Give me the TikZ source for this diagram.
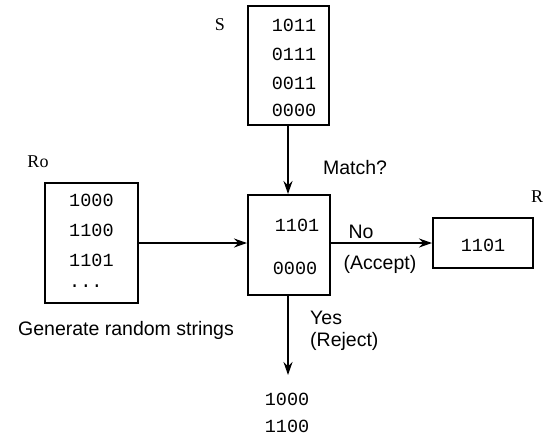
\documentclass[tikz,border=0pt]{standalone}
\usepackage{fontspec}
\setmainfont{Liberation Serif}
\setsansfont{Liberation Sans}
\setmonofont{Liberation Mono}
\usetikzlibrary{arrows.meta}
\begin{document}
\begin{tikzpicture}[x=1pt,y=-1pt,
  boxx/.style={draw,line width=2pt,inner sep=0pt,minimum width=#1},
  bits/.style={font=\ttfamily\fontsize{18.5}{18.5}\selectfont,inner sep=0pt},
  lbl/.style={font=\sffamily\fontsize{19.5}{19.5}\selectfont,inner sep=0pt},
  tagname/.style={font=\rmfamily\fontsize{18}{18}\selectfont,inner sep=0pt},
  conn/.style={line width=2pt,-{Stealth[length=13pt,width=9pt]}}]
\useasboundingbox (0,0) rectangle (545,437);
% boxes
\node[boxx=81pt,minimum height=119pt] (S) at (288,65.5) {};
\node[boxx=82pt,minimum height=100pt] (C) at (289,245) {};
\node[boxx=93pt,minimum height=120pt] (Ro) at (91.5,243) {};
\node[boxx=100pt,minimum height=50pt] (R) at (483,243) {};
% names
\node[tagname] (nS) at (220,25) {S};
\node[tagname] (nRo) at (38,162) {Ro};
\node[tagname] (nR) at (537,197) {R};
% S contents
\node[bits] (s1) at (294,25) {1011};
\node[bits] (s2) at (294,54) {0111};
\node[bits] (s3) at (294,83) {0011};
\node[bits] (s4) at (294,110) {0000};
% Ro contents
\node[bits,anchor=west] (r1) at (69,200) {1000};
\node[bits,anchor=west] (r2) at (69,230) {1100};
\node[bits,anchor=west] (r3) at (69,260) {1101};
\node[bits,anchor=west] (r4) at (69,286) {...};
% center contents
\node[bits] (c1) at (297,225) {1101};
\node[bits] (c2) at (295,268) {0000};
% R contents
\node[bits] (rr) at (483,245) {1101};
% output
\node[bits] (o1) at (287,399) {1000};
\node[bits] (o2) at (287,426) {1100};
\coordinate (down) at (C.south |- 0,375);
% connectors
\draw[conn] (S.south) -- (S.south |- C.north);
\draw[conn] (Ro.east) -- (C.west |- Ro.east);
\draw[conn] (C.east |- R.west) -- (R.west);
\draw[conn] (C.south -| S.south) -- (down -| S.south);
% labels
\node[lbl] (m) at (355,168) {Match?};
\node[lbl] (no) at (361,232) {No};
\node[lbl] (acc) at (380,264) {(Accept)};
\node[lbl,anchor=west] (yes) at (310,318) {Yes};
\node[lbl,anchor=west] (rej) at (310,341) {(Reject)};
\node[lbl] (gen) at (126,330) {Generate random strings};
\end{tikzpicture}
\end{document}
